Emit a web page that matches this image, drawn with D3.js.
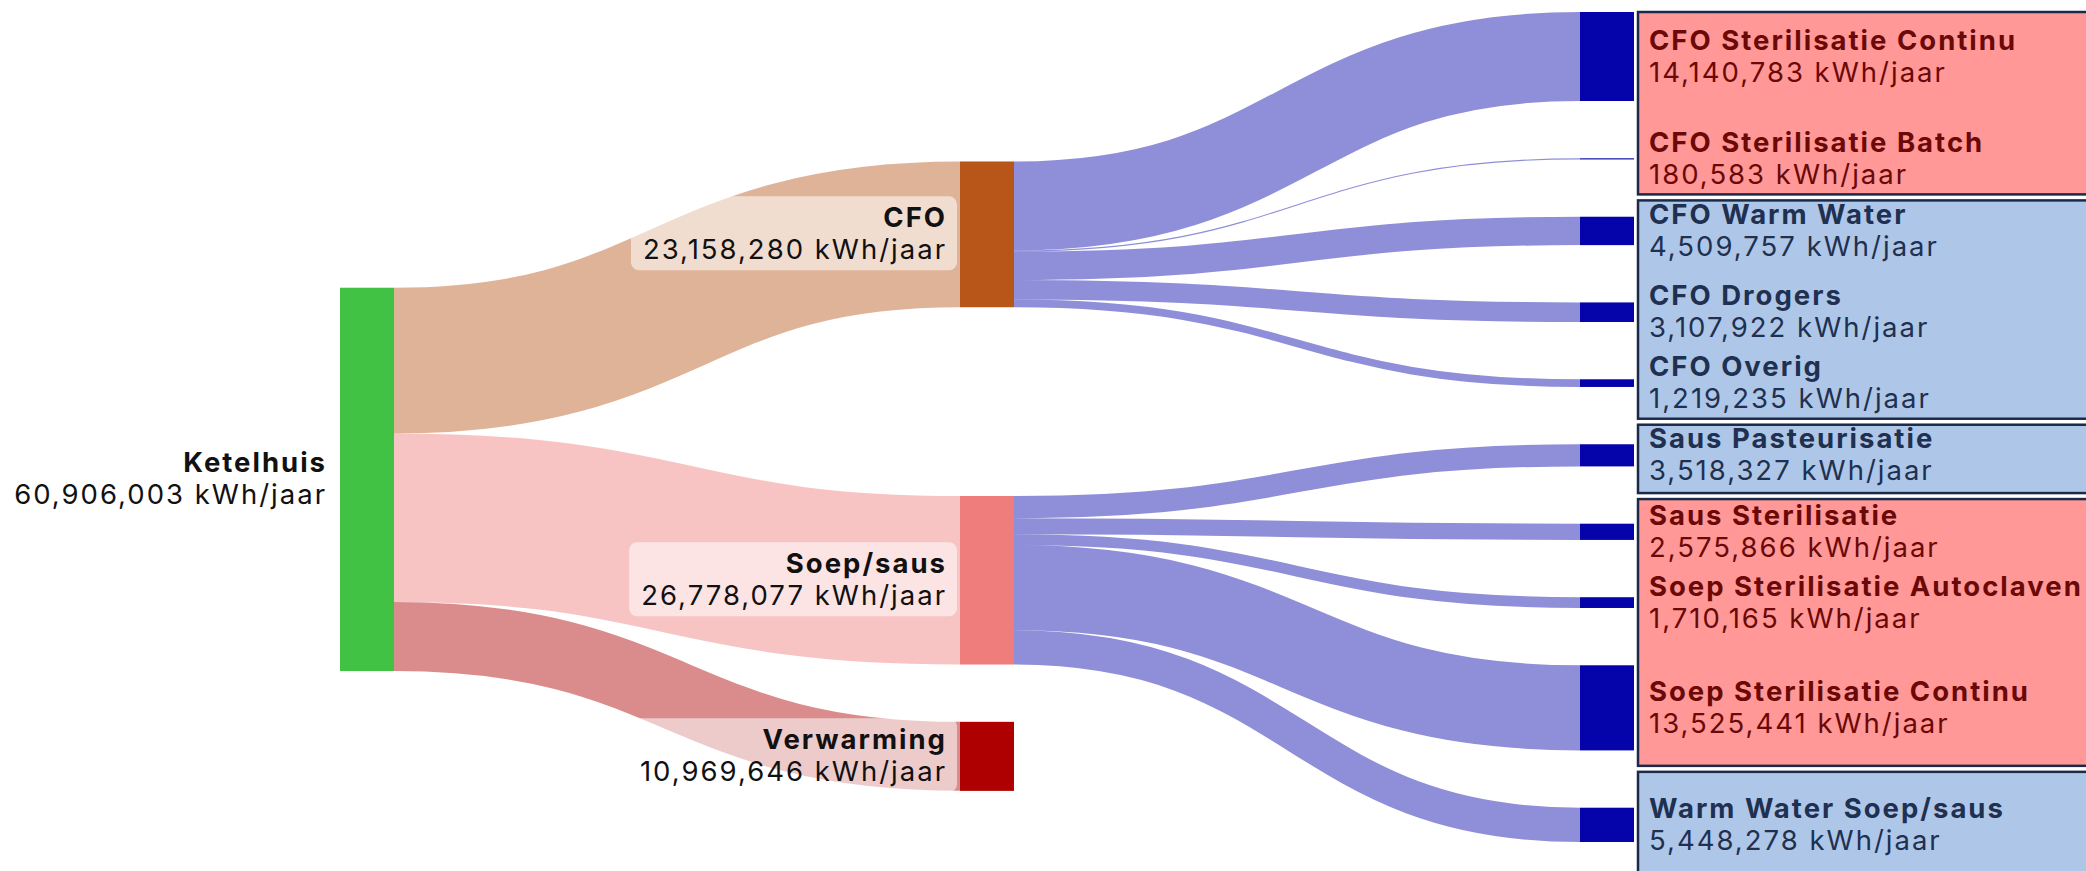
<!DOCTYPE html>
<html>
<head>
<meta charset="utf-8">
<script src="https://cdn.jsdelivr.net/npm/d3@7"></script>
<style>
  body { margin: 0; background: #fff; overflow: hidden; }
  text { font-family: Inter, "Noto Sans", sans-serif; letter-spacing: 2px; }
</style>
</head>
<body>
<div id="wrapper"></div>
<script>
/* data: energy flow Ketelhuis (kWh/jaar) */
const nodeNames = ["Ketelhuis", "CFO", "Soep/saus", "Verwarming",
  "CFO Sterilisatie Continu", "CFO Sterilisatie Batch", "CFO Warm Water", "CFO Drogers", "CFO Overig",
  "Saus Pasteurisatie", "Saus Sterilisatie", "Soep Sterilisatie Autoclaven", "Soep Sterilisatie Continu",
  "Warm Water Soep/saus"];
const linkSources = ["Ketelhuis", "Ketelhuis", "Ketelhuis",
  "CFO", "CFO", "CFO", "CFO", "CFO",
  "Soep/saus", "Soep/saus", "Soep/saus", "Soep/saus", "Soep/saus"];
const linkTargets = ["CFO", "Soep/saus", "Verwarming",
  "CFO Sterilisatie Continu", "CFO Sterilisatie Batch", "CFO Warm Water", "CFO Drogers", "CFO Overig",
  "Saus Pasteurisatie", "Saus Sterilisatie", "Soep Sterilisatie Autoclaven", "Soep Sterilisatie Continu",
  "Warm Water Soep/saus"];
const linkValues = [23158280, 26778077, 10969646,
  14140783, 180583, 4509757, 3107922, 1219235,
  3518327, 2575866, 1710165, 13525441, 5448278];
// type of each end use (sterilisatie = red box, overig = blue box)
const endUseTypes = ["steril", "steril", "overig", "overig", "overig",
  "overig", "steril", "steril", "steril", "overig"];

const nodeColors = {
  "Ketelhuis": "#42c244", "CFO": "#b8561a", "Soep/saus": "#ef7d7b", "Verwarming": "#ae0000"
};
const endNodeColor = "#0504ab";
const boxFill = { steril: "#ff9896", overig: "#aec7e8" };
const boxText = { steril: "#6b0808", overig: "#1f3050" };
const fmt = d3.format(",");

/* step 1: canvas */
const width = window.innerWidth;
const height = window.innerHeight;
const svg = d3.select("#wrapper").append("svg")
  .attr("width", width)
  .attr("height", height);

/* step 2: a small sankey layout (same steps as d3-sankey, left aligned, fixed node order) */
function sankeyLayout(graph, opt) {
  const { x0, y0, x1, y1, nodeWidth: dx, nodePadding: dy, iterations } = opt;
  const { nodes, links } = graph;
  nodes.forEach((n, i) => { n.index = i; n.sourceLinks = []; n.targetLinks = []; });
  const byName = new Map(nodes.map(n => [n.name, n]));
  links.forEach(l => {
    l.source = byName.get(l.source);
    l.target = byName.get(l.target);
    l.source.sourceLinks.push(l);
    l.target.targetLinks.push(l);
  });
  nodes.forEach(n => {
    n.value = Math.max(d3.sum(n.sourceLinks, l => l.value), d3.sum(n.targetLinks, l => l.value));
  });

  // depth
  let current = new Set(nodes), next = new Set(), depth = 0;
  while (current.size) {
    for (const n of current) {
      n.depth = depth;
      for (const { target } of n.sourceLinks) next.add(target);
    }
    depth++;
    current = next;
    next = new Set();
  }

  const xScale = d3.scaleLinear().domain([0, depth - 1]).range([x0, x1 - dx]);
  const columns = d3.range(depth).map(() => []);
  nodes.forEach(n => {
    n.layer = n.depth;
    n.x0 = xScale(n.layer);
    n.x1 = n.x0 + dx;
    columns[n.layer].push(n);
  });

  const py = Math.min(dy, (y1 - y0) / (d3.max(columns, c => c.length) - 1));
  const ky = d3.min(columns, c => (y1 - y0 - (c.length - 1) * py) / d3.sum(c, n => n.value));
  const hScale = d3.scaleLinear().domain([0, 1]).range([0, ky]);

  const byY0 = (a, b) => a.y0 - b.y0;
  const byTarget = (a, b) => byY0(a.target, b.target) || a.index - b.index;
  const bySource = (a, b) => byY0(a.source, b.source) || a.index - b.index;
  function reorderLinks(ns) {
    for (const { sourceLinks, targetLinks } of ns) {
      sourceLinks.sort(byTarget);
      targetLinks.sort(bySource);
    }
  }
  function reorderNodeLinks({ sourceLinks, targetLinks }) {
    for (const { source } of targetLinks) source.sourceLinks.sort(byTarget);
    for (const { target } of sourceLinks) target.targetLinks.sort(bySource);
  }

  // initial breadths
  for (const col of columns) {
    let y = y0;
    for (const n of col) {
      n.y0 = y;
      n.y1 = y + hScale(n.value);
      y = n.y1 + py;
      for (const l of n.sourceLinks) l.width = hScale(l.value);
    }
    y = (y1 - y + py) / (col.length + 1);
    col.forEach((n, i) => { n.y0 += y * (i + 1); n.y1 += y * (i + 1); });
    reorderLinks(col);
  }

  function targetTop(source, target) {
    let y = source.y0 - (source.sourceLinks.length - 1) * py / 2;
    for (const { target: n, width } of source.sourceLinks) { if (n === target) break; y += width + py; }
    for (const { source: n, width } of target.targetLinks) { if (n === source) break; y -= width; }
    return y;
  }
  function sourceTop(source, target) {
    let y = target.y0 - (target.targetLinks.length - 1) * py / 2;
    for (const { source: n, width } of target.targetLinks) { if (n === source) break; y += width + py; }
    for (const { target: n, width } of source.sourceLinks) { if (n === target) break; y -= width; }
    return y;
  }
  function pushDown(ns, y, i, a) {
    for (; i < ns.length; ++i) {
      const n = ns[i];
      const d = (y - n.y0) * a;
      if (d > 1e-6) { n.y0 += d; n.y1 += d; }
      y = n.y1 + py;
    }
  }
  function pushUp(ns, y, i, a) {
    for (; i >= 0; --i) {
      const n = ns[i];
      const d = (n.y1 - y) * a;
      if (d > 1e-6) { n.y0 -= d; n.y1 -= d; }
      y = n.y0 - py;
    }
  }
  function resolveCollisions(ns, a) {
    const i = ns.length >> 1;
    const s = ns[i];
    pushUp(ns, s.y0 - py, i - 1, a);
    pushDown(ns, s.y1 + py, i + 1, a);
    pushUp(ns, y1, ns.length - 1, a);
    pushDown(ns, y0, 0, a);
  }

  for (let it = 0; it < iterations; ++it) {
    const alpha = Math.pow(0.99, it);
    const beta = Math.max(1 - alpha, (it + 1) / iterations);
    // right to left
    for (let i = columns.length - 2; i >= 0; --i) {
      for (const s of columns[i]) {
        let y = 0, w = 0;
        for (const { target, value } of s.sourceLinks) {
          const v = value * (target.layer - s.layer);
          y += sourceTop(s, target) * v;
          w += v;
        }
        if (!(w > 0)) continue;
        const d = (y / w - s.y0) * alpha;
        s.y0 += d; s.y1 += d;
        reorderNodeLinks(s);
      }
      resolveCollisions(columns[i], beta);
    }
    // left to right
    for (let i = 1; i < columns.length; ++i) {
      for (const t of columns[i]) {
        let y = 0, w = 0;
        for (const { source, value } of t.targetLinks) {
          const v = value * (t.layer - source.layer);
          y += targetTop(source, t) * v;
          w += v;
        }
        if (!(w > 0)) continue;
        const d = (y / w - t.y0) * alpha;
        t.y0 += d; t.y1 += d;
        reorderNodeLinks(t);
      }
      resolveCollisions(columns[i], beta);
    }
  }

  // link breadths
  for (const n of nodes) {
    let ys = n.y0, yt = n.y0;
    for (const l of n.sourceLinks) { l.y0 = ys + l.width / 2; ys += l.width; }
    for (const l of n.targetLinks) { l.y1 = yt + l.width / 2; yt += l.width; }
  }
  return { nodes, links, columns };
}

const graph = sankeyLayout({
  nodes: nodeNames.map(name => ({ name })),
  links: linkSources.map((s, i) => ({ source: s, target: linkTargets[i], value: linkValues[i] }))
}, { x0: 340, x1: 1634, y0: 12, y1: 842, nodeWidth: 54, nodePadding: 57.3, iterations: 128 });

const colorOf = n => nodeColors[n.name] || endNodeColor;

/* step 3: right hand boxes, grouped per parent and type */
const lastCol = graph.columns[graph.columns.length - 1];
lastCol.forEach(n => { n.type = endUseTypes[nodeNames.indexOf(n.name) - 4]; });
const groups = [];
lastCol.forEach(n => {
  const g = groups[groups.length - 1];
  const parent = n.targetLinks[0].source;
  if (g && g.type === n.type && g.parent === parent) g.nodes.push(n);
  else groups.push({ type: n.type, parent, nodes: [n] });
});
const labelTop = n => (n.y0 + n.y1) / 2 - 27;
const labelBottom = n => (n.y0 + n.y1) / 2 + 32;
groups.forEach((g, i) => {
  g.top = i === 0 ? g.nodes[0].y0 : null;
  g.bottom = i === groups.length - 1 ? height + 10 : null;
});
for (let i = 1; i < groups.length; i++) {
  const prev = groups[i - 1];
  const b = (labelBottom(prev.nodes[prev.nodes.length - 1]) + labelTop(groups[i].nodes[0])) / 2;
  prev.bottom = b - 3;
  groups[i].top = b + 3;
}
const boxX = lastCol[0].x1 + 4;
svg.append("g").selectAll("rect")
  .data(groups)
  .join("rect")
  .attr("x", boxX)
  .attr("y", d => d.top)
  .attr("width", width - boxX + 10)
  .attr("height", d => d.bottom - d.top)
  .attr("fill", d => boxFill[d.type])
  .attr("stroke", "#1b2a48")
  .attr("stroke-width", 2.5);

/* step 4: links */
const linkPath = d3.linkHorizontal()
  .source(d => [d.source.x1, d.y0])
  .target(d => [d.target.x0, d.y1]);
svg.append("g")
  .attr("fill", "none")
  .selectAll("path")
  .data(graph.links)
  .join("path")
  .attr("d", linkPath)
  .attr("stroke", d => colorOf(d.target))
  .attr("stroke-opacity", 0.45)
  .attr("stroke-width", d => Math.max(1, d.width));

/* step 5: nodes */
svg.append("g").selectAll("rect")
  .data(graph.nodes)
  .join("rect")
  .attr("x", d => d.x0)
  .attr("y", d => d.y0)
  .attr("width", d => d.x1 - d.x0)
  .attr("height", d => Math.max(1, d.y1 - d.y0))
  .attr("fill", colorOf);

/* step 6: labels */
const labelG = svg.append("g");
graph.nodes.forEach(n => {
  const right = n.layer === graph.columns.length - 1;
  const c = (n.y0 + n.y1) / 2;
  const g = labelG.append("g");
  const t = g.append("text")
    .attr("text-anchor", right ? "start" : "end")
    .attr("fill", right ? boxText[n.type] : "#111")
    .style("font-size", "27.5px");
  const x = right ? n.x1 + 15 : n.x0 - 13;
  t.append("tspan").attr("x", x).attr("y", c - 7).style("font-weight", 700).text(n.name);
  t.append("tspan").attr("x", x).attr("y", c + 25).text(fmt(n.value) + " kWh/jaar");
  if (!right) {
    const bb = t.node().getBBox();
    g.insert("rect", "text")
      .attr("x", bb.x - 12)
      .attr("y", bb.y - 4)
      .attr("width", bb.width + 22)
      .attr("height", bb.height + 8)
      .attr("rx", 8)
      .attr("fill", "#fff")
      .attr("fill-opacity", 0.55);
  }
});
</script>
</body>
</html>
